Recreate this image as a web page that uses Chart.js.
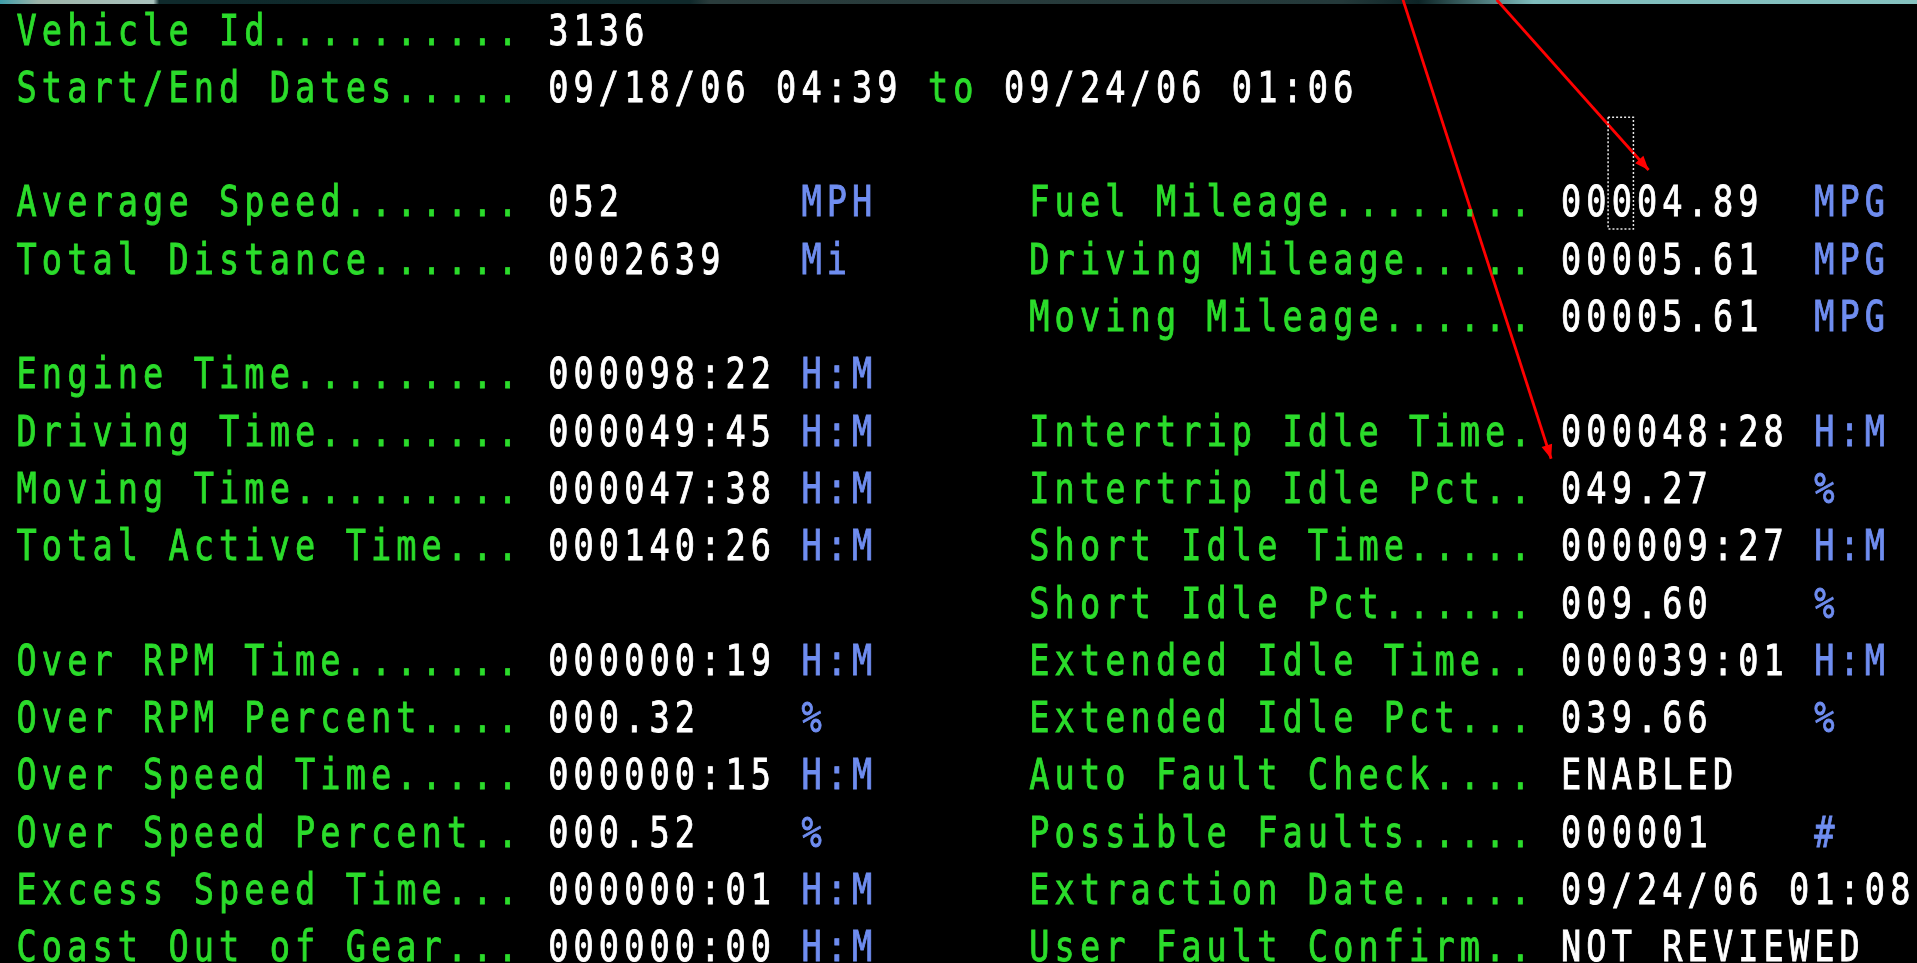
<!DOCTYPE html>
<html lang="en">
<head>
    <meta charset="UTF-8">
    <title>Vehicle Trip Summary</title>
    <script src="https://cdn.jsdelivr.net/npm/chart.js"></script>
    <style>
        html, body { margin: 0; padding: 0; background: #000; overflow: hidden; }
        #screen { display: block; }
    </style>
</head>
<body>
    <canvas id="screen" width="1917" height="963"></canvas>

    <script>
        // terminal rows, left column
        const leftRows   = [0, 3, 4, 6, 7, 8, 9, 11, 12, 13, 14, 15, 16];
        const leftLabels = ['Vehicle Id', 'Average Speed', 'Total Distance', 'Engine Time', 'Driving Time',
                            'Moving Time', 'Total Active Time', 'Over RPM Time', 'Over RPM Percent',
                            'Over Speed Time', 'Over Speed Percent', 'Excess Speed Time', 'Coast Out of Gear'];
        const leftValues = ['3136', '052', '0002639', '000098:22', '000049:45', '000047:38', '000140:26',
                            '000000:19', '000.32', '000000:15', '000.52', '000000:01', '000000:00'];
        const leftUnits  = ['', 'MPH', 'Mi', 'H:M', 'H:M', 'H:M', 'H:M', 'H:M', '%', 'H:M', '%', 'H:M', 'H:M'];

        // the date range row
        const rangeLabel = 'Start/End Dates';
        const rangeStart = '09/18/06 04:39';
        const rangeWord  = 'to';
        const rangeEnd   = '09/24/06 01:06';

        // right column
        const rightRows   = [3, 4, 5, 7, 8, 9, 10, 11, 12, 13, 14, 15, 16];
        const rightLabels = ['Fuel Mileage', 'Driving Mileage', 'Moving Mileage', 'Intertrip Idle Time',
                             'Intertrip Idle Pct', 'Short Idle Time', 'Short Idle Pct', 'Extended Idle Time',
                             'Extended Idle Pct', 'Auto Fault Check', 'Possible Faults', 'Extraction Date',
                             'User Fault Confirm'];
        const rightValues = ['00004.89', '00005.61', '00005.61', '000048:28', '049.27', '000009:27', '009.60',
                             '000039:01', '039.66', 'ENABLED', '000001', '09/24/06 01:08', 'NOT REVIEWED'];
        const rightUnits  = ['MPG', 'MPG', 'MPG', 'H:M', '%', 'H:M', '%', 'H:M', '%', '', '#', '', ''];

        // red arrows drawn on the screenshot (column, row)
        const arrowFuel = [{x: 58.4, y: -0.51}, {x: 64.4, y: 2.46}];
        const arrowIdle = [{x: 54.7, y: -0.51}, {x: 60.55, y: 7.5}];
        // dotted selection box around one digit
        const selectBox = [{x: 62.8, y: 1.54}, {x: 63.8, y: 1.54}, {x: 63.8, y: 3.49}, {x: 62.8, y: 3.49}, {x: 62.8, y: 1.54}];

        const GREEN = '#2bdc2b';
        const WHITE = '#ffffff';
        const BLUE = '#6f8df0';
        const RED = '#ff0000';
        const CAP = 31;
        const CELL = 25.32, ROW = 57.3;

        const LABEL_W = 20;   // label field padded with dots
        const LEFT_COL = 0, RIGHT_COL = 40;

        function pad(label) {
            let s = label;
            while (s.length < LABEL_W) s += '.';
            return s;
        }

        function drawCells(ctx, chart, str, col, row, color) {
            const xs = chart.scales.x, ys = chart.scales.y;
            const y = ys.getPixelForValue(row) + CAP / 2;
            ctx.fillStyle = color;
            ctx.strokeStyle = color;
            ctx.lineWidth = 0.9;
            for (let i = 0; i < str.length; i++) {
                const ch = str[i];
                if (ch === ' ') continue;
                const cx = xs.getPixelForValue(col + i + 0.34);
                ctx.save();
                ctx.translate(cx, y);
                ctx.scale(0.8, 1.03);
                ctx.fillText(ch, 0, 0);
                ctx.strokeText(ch, 0, 0);
                ctx.restore();
            }
        }

        const terminal = {
            id: 'terminal',
            beforeDraw(chart) {
                const ctx = chart.ctx;
                ctx.save();
                ctx.fillStyle = '#000';
                ctx.fillRect(0, 0, chart.width, chart.height);
                // strip of the window behind, along the top edge
                const g = ctx.createLinearGradient(0, 0, chart.width, 0);
                g.addColorStop(0, '#3f9eaa');
                g.addColorStop(0.02, '#9db4a8');
                g.addColorStop(0.08, '#a9c2bd');
                g.addColorStop(0.083, '#0f2a2c');
                g.addColorStop(0.36, '#10292b');
                g.addColorStop(0.37, '#2a3c3c');
                g.addColorStop(0.70, '#24393a');
                g.addColorStop(0.74, '#0d2426');
                g.addColorStop(0.80, '#7fbcbc');
                g.addColorStop(1, '#86c2c0');
                ctx.fillStyle = g;
                ctx.fillRect(0, 0, chart.width, 4);
                ctx.restore();
            },
            afterDatasetsDraw(chart) {
                const ctx = chart.ctx;
                ctx.save();
                ctx.font = '42px "DejaVu Sans Mono"';
                ctx.textAlign = 'center';
                ctx.textBaseline = 'alphabetic';

                leftRows.forEach((r, i) => {
                    drawCells(ctx, chart, pad(leftLabels[i]), LEFT_COL, r, GREEN);
                    drawCells(ctx, chart, leftValues[i], LEFT_COL + 21, r, WHITE);
                    drawCells(ctx, chart, leftUnits[i], LEFT_COL + 31, r, BLUE);
                });

                drawCells(ctx, chart, pad(rangeLabel), LEFT_COL, 1, GREEN);
                drawCells(ctx, chart, rangeStart, LEFT_COL + 21, 1, WHITE);
                drawCells(ctx, chart, rangeWord, LEFT_COL + 21 + rangeStart.length + 1, 1, GREEN);
                drawCells(ctx, chart, rangeEnd, LEFT_COL + 21 + rangeStart.length + rangeWord.length + 2, 1, WHITE);

                rightRows.forEach((r, i) => {
                    drawCells(ctx, chart, pad(rightLabels[i]), RIGHT_COL, r, GREEN);
                    drawCells(ctx, chart, rightValues[i], RIGHT_COL + 21, r, WHITE);
                    drawCells(ctx, chart, rightUnits[i], RIGHT_COL + 31, r, BLUE);
                });

                // arrow heads
                [arrowFuel, arrowIdle].forEach(a => {
                    const xs = chart.scales.x, ys = chart.scales.y;
                    const p0 = {x: xs.getPixelForValue(a[0].x), y: ys.getPixelForValue(a[0].y)};
                    const p1 = {x: xs.getPixelForValue(a[1].x), y: ys.getPixelForValue(a[1].y)};
                    const ang = Math.atan2(p1.y - p0.y, p1.x - p0.x);
                    const len = 14, half = 5.5;
                    ctx.save();
                    ctx.translate(p1.x, p1.y);
                    ctx.rotate(ang);
                    ctx.fillStyle = RED;
                    ctx.beginPath();
                    ctx.moveTo(0, 0);
                    ctx.lineTo(-len, -half);
                    ctx.lineTo(-len, half);
                    ctx.closePath();
                    ctx.fill();
                    ctx.restore();
                });
                ctx.restore();
            }
        };

        new Chart(document.getElementById('screen'), {
            type: 'scatter',
            data: {
                datasets: [
                    {
                        label: 'box',
                        data: selectBox,
                        showLine: true,
                        borderColor: '#e8e8e8',
                        borderWidth: 1.5,
                        borderDash: [2, 2],
                        pointRadius: 0,
                        fill: false
                    },
                    {
                        label: 'fuel arrow',
                        data: arrowFuel,
                        showLine: true,
                        borderColor: RED,
                        borderWidth: 2.8,
                        pointRadius: 0,
                        fill: false
                    },
                    {
                        label: 'idle arrow',
                        data: arrowIdle,
                        showLine: true,
                        borderColor: RED,
                        borderWidth: 2.8,
                        pointRadius: 0,
                        fill: false
                    }
                ]
            },
            options: {
                responsive: false,
                animation: false,
                layout: { padding: 0 },
                scales: {
                    x: { type: 'linear', display: false, min: -18 / CELL, max: (1917 - 18) / CELL },
                    y: { type: 'linear', display: false, reverse: true, min: -29 / ROW, max: (963 - 29) / ROW }
                },
                plugins: {
                    legend: { display: false },
                    tooltip: { enabled: false }
                }
            },
            plugins: [terminal]
        });
    </script>
</body>
</html>
